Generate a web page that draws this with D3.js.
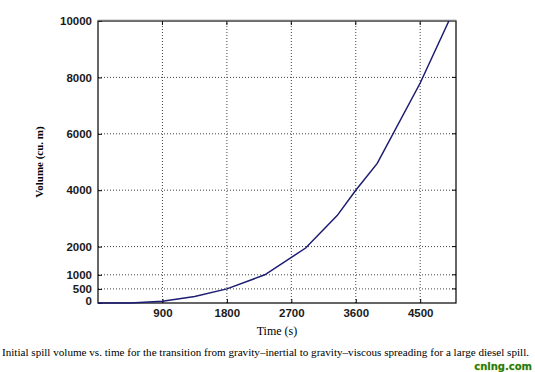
<!DOCTYPE html>
<html><head><meta charset="utf-8">
<script src="https://cdn.jsdelivr.net/npm/d3@7"></script>
<style>body{margin:0;background:#fff}svg{display:block}</style>
</head><body>
<script>
const timeS = [0, 450, 900, 1350, 1800, 2330, 2900, 3340, 3600, 3900, 4500, 4900];
const volume = [0, 0, 60, 230, 500, 1000, 1950, 3100, 4000, 4950, 7800, 10000];
const xTicks = [900, 1800, 2700, 3600, 4500];
const yTicks = [0, 500, 1000, 2000, 4000, 6000, 8000, 10000];
const caption = "Initial spill volume vs. time for the transition from gravity\u2013inertial to gravity\u2013viscous spreading for a large diesel spill.";

const W = 535, H = 372;
const m = {l: 98, r: 79, t: 21, b: 69};
const svg = d3.select("body").append("svg").attr("width", W).attr("height", H);
const x = d3.scaleLinear().domain([0, 5000]).range([m.l, W - m.r]);
const y = d3.scaleLinear().domain([0, 10000]).range([H - m.b, m.t]);

// grid
const g = svg.append("g");
g.selectAll(".vg").data(xTicks).join("line")
  .attr("x1", d => x(d)).attr("x2", d => x(d)).attr("y1", y(0)).attr("y2", y(10000))
  .attr("stroke", "#444").attr("stroke-width", 1).attr("stroke-dasharray", "1,2");
g.selectAll(".hg").data(yTicks.filter(d => d > 0 && d < 10000)).join("line")
  .attr("x1", x(0)).attr("x2", x(5000)).attr("y1", d => y(d)).attr("y2", d => y(d))
  .attr("stroke", "#444").attr("stroke-width", 1).attr("stroke-dasharray", "1,2");

// axes
const font = "'Liberation Sans', Arial, sans-serif";
const xAxis = svg.append("g").attr("transform", `translate(0,${y(0)})`)
  .call(d3.axisBottom(x).tickValues(xTicks).tickSize(-4).tickPadding(6).tickFormat(d3.format("d")));
const yAxis = svg.append("g").attr("transform", `translate(${x(0)},0)`)
  .call(d3.axisLeft(y).tickValues(yTicks).tickSize(-4).tickPadding(6).tickFormat(d3.format("d")));
[xAxis, yAxis].forEach(a => {
  a.select(".domain").remove();
  a.selectAll("line").attr("stroke", "#000");
  a.selectAll("text").attr("font-family", font).attr("font-size", 11.5).attr("font-weight", "bold").attr("fill", "#1a1a1a");
});
yAxis.selectAll(".tick").filter(d => d === 0).select("text").attr("dy", "0.1em");
// right-side ticks
svg.append("g").selectAll("line").data(yTicks.filter(d => d > 0 && d < 10000)).join("line")
  .attr("x1", x(5000)).attr("x2", x(5000) - 4).attr("y1", d => y(d)).attr("y2", d => y(d)).attr("stroke", "#000");
svg.append("g").selectAll("line").data(xTicks).join("line")
  .attr("x1", d => x(d)).attr("x2", d => x(d)).attr("y1", y(10000)).attr("y2", y(10000) + 4).attr("stroke", "#000");

// frame
svg.append("rect").attr("x", x(0)).attr("y", y(10000)).attr("width", x(5000) - x(0)).attr("height", y(0) - y(10000))
  .attr("fill", "none").attr("stroke", "#000").attr("stroke-width", 1.2);
svg.append("line").attr("x1", x(0)).attr("x2", x(5000)).attr("y1", y(10000) - 0.5).attr("y2", y(10000) - 0.5)
  .attr("stroke", "#777").attr("stroke-width", 1.5);

// line
svg.append("path").datum(timeS.map((t, i) => [t, volume[i]]))
  .attr("fill", "none").attr("stroke", "#1c1c72").attr("stroke-width", 1.5)
  .attr("d", d3.line().x(d => x(d[0])).y(d => y(d[1])));

// labels
const serif = "'Liberation Serif', 'Times New Roman', serif";
svg.append("text").attr("x", (x(0) + x(5000)) / 2).attr("y", 335).attr("text-anchor", "middle")
  .attr("font-family", serif).attr("font-size", 12).text("Time (s)");
svg.append("text").attr("transform", `translate(43,${(y(0) + y(10000)) / 2}) rotate(-90)`)
  .attr("text-anchor", "middle").attr("font-family", serif).attr("font-size", 11).attr("font-weight", "bold")
  .text("Volume (cu. m)");
svg.append("text").attr("x", 2).attr("y", 356).attr("font-family", serif).attr("font-size", 11)
  .attr("textLength", 527).attr("lengthAdjust", "spacingAndGlyphs").text(caption);
svg.append("text").attr("x", 532).attr("y", 370).attr("text-anchor", "end")
  .attr("font-family", "'DejaVu Sans', sans-serif").attr("font-size", 10).attr("font-weight", "bold")
  .attr("fill", "#1d7a1d").attr("stroke", "#e8e05a").attr("stroke-width", 0.6).attr("paint-order", "stroke")
  .text("cnlng.com");
</script>
</body></html>
